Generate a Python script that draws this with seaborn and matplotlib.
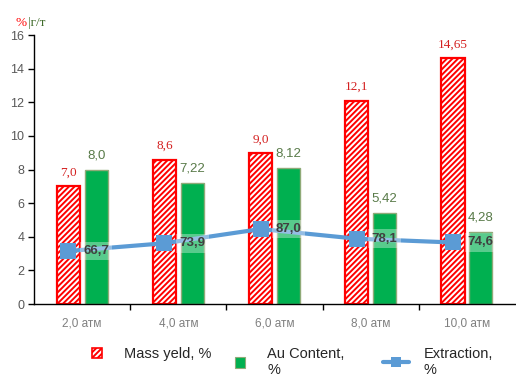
import numpy as np
import pandas as pd
import matplotlib
matplotlib.use("Agg")
import matplotlib.pyplot as plt
import seaborn as sns
from matplotlib.patches import Patch
from matplotlib.lines import Line2D

categories = ["2,0 атм", "4,0 атм", "6,0 атм", "8,0 атм", "10,0 атм"]
mass_yield = [7.0, 8.6, 9.0, 12.1, 14.65]
au_content = [8.0, 7.22, 8.12, 5.42, 4.28]
extraction = [66.7, 73.9, 87.0, 78.1, 74.6]
mass_labels = ["7,0", "8,6", "9,0", "12,1", "14,65"]
au_labels = ["8,0", "7,22", "8,12", "5,42", "4,28"]
ext_labels = ["66,7", "73,9", "87,0", "78,1", "74,6"]
y_ticks = [0, 2, 4, 6, 8, 10, 12, 14, 16]
legend_labels = ["Mass yeld, %", "Au Content,\n%", "Extraction,\n%"]

RED = "#FF0000"
GREEN = "#00B050"
GREEN_EDGE = "#8FAA78"
GREEN_TXT = "#587A48"
BLUE = "#5B9BD5"

sns.set_theme(style="white")
plt.rcParams["font.family"] = ["Liberation Sans", "DejaVu Sans"]
plt.rcParams["hatch.linewidth"] = 1.4

fig = plt.figure(figsize=(5.16, 3.74), dpi=100)
ax = fig.add_axes([0.066, 0.187, 0.932, 0.719])

df = pd.DataFrame({
    "cat": categories * 2,
    "val": mass_yield + au_content,
    "series": ["Mass"] * len(categories) + ["Au"] * len(categories),
})
sns.barplot(data=df, x="cat", y="val", hue="series",
            palette={"Mass": "white", "Au": GREEN}, saturation=1,
            width=0.58, gap=0.17, ax=ax, legend=False, errorbar=None)

n = len(categories)
bars = list(ax.patches)
mass_bars = bars[:n]
au_bars = bars[n:2 * n]
for p, lab in zip(mass_bars, mass_labels):
    p.set_edgecolor(RED)
    p.set_hatch("//////")
    p.set_linewidth(1.6)
    ax.text(p.get_x() + p.get_width() / 2, p.get_height() + 0.45, lab,
            ha="center", va="bottom", color="#D42020", fontsize=9.5,
            family=["Liberation Serif", "DejaVu Serif"])
for p, lab in zip(au_bars, au_labels):
    p.set_edgecolor(GREEN_EDGE)
    p.set_linewidth(1.0)
    ax.text(p.get_x() + p.get_width() / 2, p.get_height() + 0.5, lab,
            ha="center", va="bottom", color=GREEN_TXT, fontsize=9.5)

ax.set_xlim(-0.5, n - 0.5)
ax.set_ylim(0, 16)
ax.set_yticks(y_ticks)
ax.set_xlabel("")
ax.set_ylabel("")
for s in ["top", "right"]:
    ax.spines[s].set_visible(False)
for s in ["left", "bottom"]:
    ax.spines[s].set_color("black")
    ax.spines[s].set_linewidth(1.0)
ax.tick_params(axis="y", left=True, direction="out", length=4, width=1,
               color="black", labelcolor="#595959", labelsize=9, pad=3)
ax.tick_params(axis="x", which="major", bottom=False, labelcolor="#7F7F7F",
               labelsize=8.5, pad=4)
ax.set_xticks(np.arange(n - 1) + 0.5, minor=True)
ax.tick_params(axis="x", which="minor", bottom=True, direction="out",
               length=4, width=1, color="black")

# extraction line on hidden secondary axis
ax2 = ax.twinx()
xpos = np.arange(n) - 0.145
sns.lineplot(x=xpos, y=extraction, ax=ax2, color=BLUE, linewidth=3,
             marker="s", markersize=11, markeredgewidth=0, zorder=5)
ax2.set_ylim(17.8, 265.9)
ax2.set_xlim(-0.5, n - 0.5)
ax2.axis("off")
for x, v, lab in zip(xpos, extraction, ext_labels):
    ax2.text(x + 0.155, v, lab, ha="left", va="center", fontsize=9.5,
             fontweight="bold", color="#404040", zorder=6,
             bbox=dict(boxstyle="square,pad=0.25", fc="white", ec="none", alpha=0.35))

# axis unit label
fig.text(15 / 516, 1 - 23 / 374, "%", color=RED, fontsize=9.5, va="center",
         family=["Liberation Serif", "DejaVu Serif"])
fig.text(28 / 516, 1 - 23 / 374, "|г/т", color="#3F6B2A", fontsize=9.5, va="center",
         family=["Liberation Serif", "DejaVu Serif"])

# legend
handles = [
    Patch(facecolor="white", edgecolor=RED, hatch="//////", linewidth=1.2),
    Patch(facecolor=GREEN, edgecolor=GREEN_EDGE, linewidth=0.8),
    Line2D([], [], color=BLUE, linewidth=3, marker="s", markersize=7, markeredgewidth=0),
]
xs = [92 / 516, 235 / 516, 383 / 516]
for h, lab, x, hl in zip(handles, legend_labels, xs, [0.7, 0.7, 1.8]):
    fig.legend([h], [lab], loc="upper left", bbox_to_anchor=(x, 1 - 347 / 374),
               frameon=False, fontsize=10.5, handlelength=hl, handleheight=0.7,
               handletextpad=1.5 if hl < 1 else 1.0, borderpad=0, borderaxespad=0,
               labelspacing=0)

fig.savefig("out.png", dpi=100)
